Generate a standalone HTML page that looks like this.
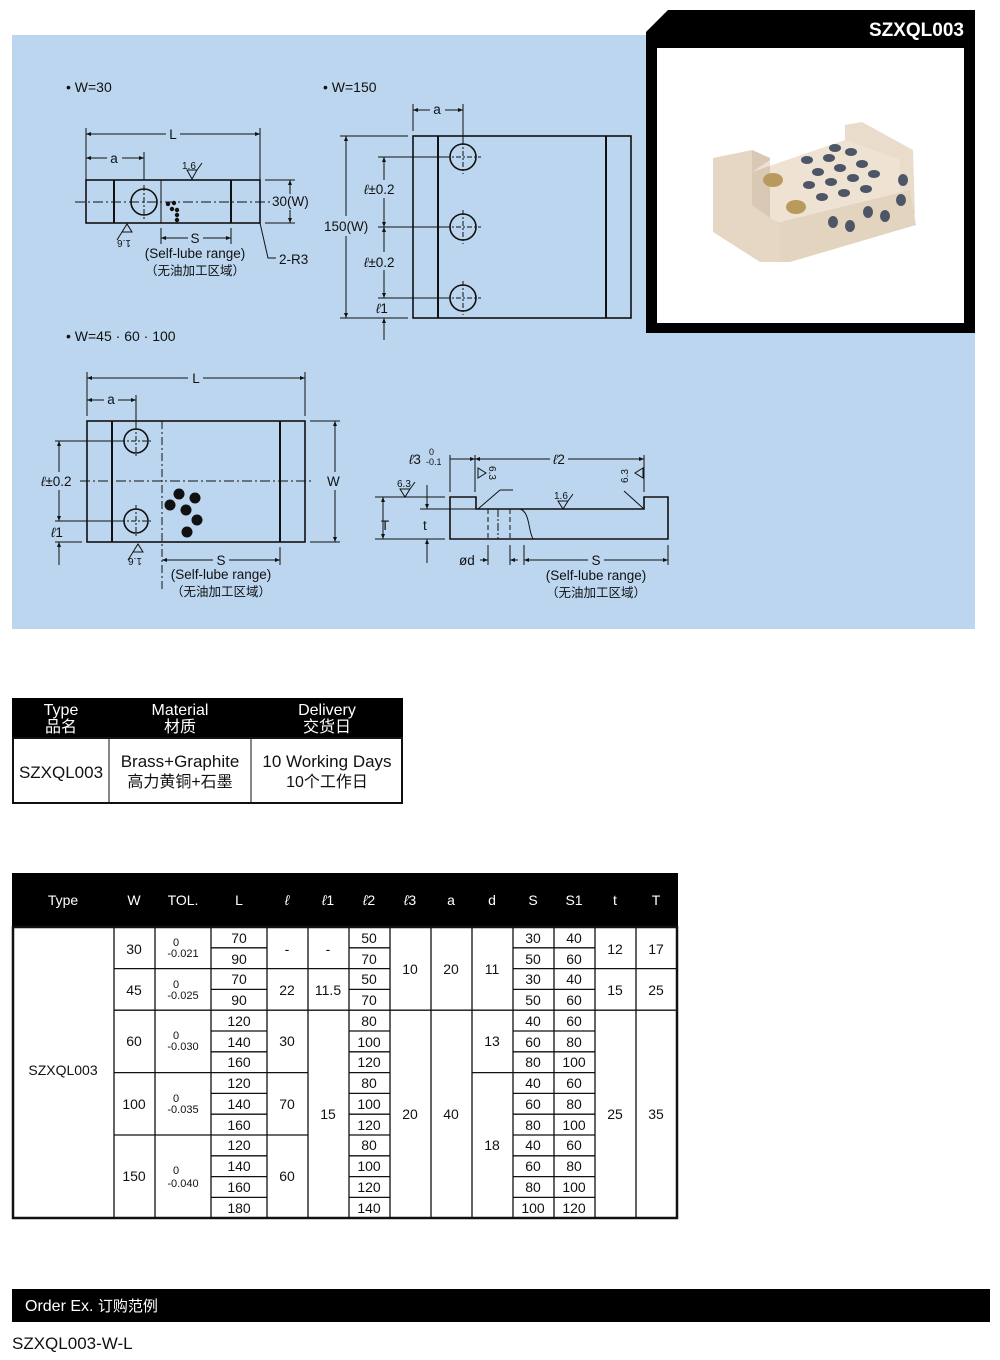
<!DOCTYPE html>
<html><head><meta charset="utf-8"><style>
html,body{margin:0;padding:0;background:#fff;}
svg{display:block;font-family:"Liberation Sans","Noto Sans CJK SC",sans-serif;}
</style></head><body>
<svg width="1000" height="1360" viewBox="0 0 1000 1360" xmlns="http://www.w3.org/2000/svg">
<defs>
<marker id="ar" viewBox="0 0 10 10" refX="10" refY="5" markerWidth="9" markerHeight="5" orient="auto-start-reverse" markerUnits="userSpaceOnUse"><path d="M0,1 L10,5 L0,9 z" fill="#111"/></marker>
</defs>
<rect x="12" y="35" width="963" height="594" fill="#bcd6ef"/>
<!-- photo frame -->
<path d="M668,10 L975,10 L975,333 L646,333 L646,32 Z" fill="#000"/>
<rect x="657" y="48" width="307" height="275" fill="#fff"/>
<text x="964" y="36" font-size="19" font-weight="bold" fill="#fff" text-anchor="end">SZXQL003</text>
<!-- product -->
<g>
<path d="M713,158 L752,150 L770,158 L770,218 L780,222 L780,262 L760,262 L713,232 Z" fill="#e6d7c4"/>
<path d="M752,150 L770,158 L770,218 L752,205 Z" fill="#d9c8b3"/>
<path d="M752,172 L845,140 L900,160 L910,190 L780,222 L770,218 L770,160 Z" fill="#eee2d2"/>
<path d="M845,125 L862,122 L913,150 L915,215 L900,195 L900,160 L845,140 Z" fill="#e9dccb"/>
<path d="M780,222 L910,190 L916,225 L790,262 L780,262 Z" fill="#e3d4c0"/>
<ellipse cx="773" cy="180" rx="10" ry="7" fill="#b89a5c"/><ellipse cx="796" cy="207" rx="10" ry="7" fill="#b89a5c"/>
<g fill="#4d5666">
<ellipse cx="807" cy="160" rx="6" ry="4"/><ellipse cx="829" cy="158" rx="6" ry="4"/><ellipse cx="851" cy="152" rx="6" ry="4"/><ellipse cx="835" cy="148" rx="6" ry="4"/>
<ellipse cx="818" cy="172" rx="6" ry="4"/><ellipse cx="840" cy="168" rx="6" ry="4"/><ellipse cx="862" cy="164" rx="6" ry="4"/><ellipse cx="809" cy="185" rx="6" ry="4"/>
<ellipse cx="831" cy="182" rx="6" ry="4"/><ellipse cx="853" cy="178" rx="6" ry="4"/><ellipse cx="874" cy="174" rx="6" ry="4"/><ellipse cx="822" cy="197" rx="6" ry="4"/>
<ellipse cx="844" cy="193" rx="6" ry="4"/><ellipse cx="866" cy="189" rx="6" ry="4"/>
<ellipse cx="833" cy="222" rx="5" ry="6"/><ellipse cx="850" cy="226" rx="5" ry="6"/><ellipse cx="868" cy="212" rx="5" ry="6"/><ellipse cx="885" cy="216" rx="5" ry="6"/>
<ellipse cx="901" cy="200" rx="5" ry="6"/><ellipse cx="903" cy="180" rx="5" ry="6"/>
</g>
</g>

<g font-size="14" fill="#111">
<text x="66" y="92">• W=30</text>
<text x="323" y="92">• W=150</text>
<text x="66" y="341">• W=45 · 60 · 100</text>
</g>

<g stroke="#111" fill="none" stroke-width="1">
<!-- Drawing 1 -->
<rect x="86" y="180" width="174" height="43" stroke-width="1.6"/>
<line x1="114" y1="180" x2="114" y2="223" stroke-width="2"/>
<line x1="161" y1="180" x2="161" y2="223"/>
<line x1="231" y1="180" x2="231" y2="223" stroke-width="2"/>
<circle cx="144" cy="202" r="13" stroke-width="1.6"/>
<line x1="75" y1="202" x2="270" y2="202" stroke-dasharray="10,3,2,3"/>
<line x1="144" y1="185" x2="144" y2="219" stroke-dasharray="6,2,2,2"/>
<line x1="86" y1="128" x2="86" y2="180"/><line x1="260" y1="128" x2="260" y2="180"/>
<line x1="86" y1="134" x2="166" y2="134" marker-start="url(#ar)"/><line x1="180" y1="134" x2="260" y2="134" marker-end="url(#ar)"/>
<line x1="144" y1="152" x2="144" y2="180"/>
<line x1="86" y1="158" x2="107" y2="158" marker-start="url(#ar)"/><line x1="122" y1="158" x2="144" y2="158" marker-end="url(#ar)"/>
<line x1="265" y1="180" x2="295" y2="180"/><line x1="265" y1="223" x2="295" y2="223"/>
<line x1="290" y1="180" x2="290" y2="194" marker-start="url(#ar)"/><line x1="290" y1="210" x2="290" y2="223" marker-end="url(#ar)"/>
<line x1="161" y1="228" x2="161" y2="244"/><line x1="231" y1="228" x2="231" y2="244"/>
<line x1="161" y1="238" x2="188" y2="238" marker-start="url(#ar)"/><line x1="203" y1="238" x2="231" y2="238" marker-end="url(#ar)"/>
<polyline points="260,223 268,258 276,258"/>
<path d="M187,170 L197,170 L192,179 Z M197,170 L202,163"/>
<path d="M122,232 L132,232 L127,224 Z M117,240 L122,232"/>
<!-- Drawing 2 -->
<rect x="413" y="136" width="218" height="182" stroke-width="1.6"/>
<line x1="438" y1="136" x2="438" y2="318" stroke-width="2"/>
<line x1="606" y1="136" x2="606" y2="318" stroke-width="2"/>
<circle cx="463" cy="157" r="13" stroke-width="1.6"/><circle cx="463" cy="227" r="13" stroke-width="1.6"/><circle cx="463" cy="298" r="13" stroke-width="1.6"/>
<g stroke-dasharray="5,2,2,2"><line x1="445" y1="157" x2="481" y2="157"/><line x1="463" y1="140" x2="463" y2="174"/><line x1="445" y1="227" x2="481" y2="227"/><line x1="463" y1="210" x2="463" y2="244"/><line x1="445" y1="298" x2="481" y2="298"/><line x1="463" y1="281" x2="463" y2="315"/></g>
<line x1="340" y1="136" x2="408" y2="136"/><line x1="340" y1="318" x2="408" y2="318"/>
<line x1="346" y1="136" x2="346" y2="216" marker-start="url(#ar)"/><line x1="346" y1="236" x2="346" y2="318" marker-end="url(#ar)"/>
<line x1="378" y1="157" x2="445" y2="157"/><line x1="378" y1="227" x2="445" y2="227"/><line x1="378" y1="298" x2="445" y2="298"/>
<line x1="384" y1="157" x2="384" y2="180" marker-start="url(#ar)"/><line x1="384" y1="198" x2="384" y2="227" marker-end="url(#ar)"/>
<line x1="384" y1="227" x2="384" y2="252" marker-start="url(#ar)"/><line x1="384" y1="270" x2="384" y2="298" marker-end="url(#ar)"/>
<line x1="384" y1="318" x2="384" y2="340" marker-start="url(#ar)"/>
<line x1="413" y1="104" x2="413" y2="131"/><line x1="463" y1="104" x2="463" y2="144"/>
<line x1="413" y1="110" x2="430" y2="110" marker-start="url(#ar)"/><line x1="445" y1="110" x2="463" y2="110" marker-end="url(#ar)"/>
<!-- Drawing 3 -->
<rect x="87" y="421" width="218" height="121" stroke-width="1.6"/>
<line x1="112" y1="421" x2="112" y2="542" stroke-width="2"/>
<line x1="280" y1="421" x2="280" y2="542" stroke-width="2"/>
<line x1="162" y1="421" x2="162" y2="590" stroke-dasharray="8,3,2,3"/>
<circle cx="136" cy="441" r="12" stroke-width="1.6"/><circle cx="136" cy="521" r="12" stroke-width="1.6"/>
<g stroke-dasharray="5,2,2,2"><line x1="120" y1="441" x2="152" y2="441"/><line x1="136" y1="425" x2="136" y2="457"/><line x1="120" y1="521" x2="152" y2="521"/><line x1="136" y1="505" x2="136" y2="537"/></g>
<line x1="80" y1="481" x2="312" y2="481" stroke-dasharray="10,3,2,3"/>
<line x1="87" y1="372" x2="87" y2="416"/><line x1="305" y1="372" x2="305" y2="416"/>
<line x1="87" y1="378" x2="188" y2="378" marker-start="url(#ar)"/><line x1="203" y1="378" x2="305" y2="378" marker-end="url(#ar)"/>
<line x1="136" y1="395" x2="136" y2="428"/>
<line x1="87" y1="400" x2="104" y2="400" marker-start="url(#ar)"/><line x1="118" y1="400" x2="136" y2="400" marker-end="url(#ar)"/>
<line x1="310" y1="421" x2="340" y2="421"/><line x1="310" y1="542" x2="340" y2="542"/>
<line x1="335" y1="421" x2="335" y2="472" marker-start="url(#ar)"/><line x1="335" y1="490" x2="335" y2="542" marker-end="url(#ar)"/>
<line x1="55" y1="441" x2="120" y2="441"/><line x1="55" y1="521" x2="120" y2="521"/><line x1="55" y1="542" x2="82" y2="542"/>
<line x1="59" y1="441" x2="59" y2="472" marker-start="url(#ar)"/><line x1="59" y1="490" x2="59" y2="521" marker-end="url(#ar)"/>
<line x1="59" y1="542" x2="59" y2="565" marker-start="url(#ar)"/>
<line x1="280" y1="547" x2="280" y2="565"/>
<line x1="162" y1="560" x2="213" y2="560" marker-start="url(#ar)"/><line x1="229" y1="560" x2="280" y2="560" marker-end="url(#ar)"/>
<path d="M133,552 L143,552 L138,544 Z M128,560 L133,552"/>
<!-- Drawing 4 -->
<path d="M450,497 L476,497 L476,509 L644,509 L644,497 L668,497 L668,539 L450,539 Z" stroke-width="1.6"/>
<line x1="488" y1="509" x2="488" y2="539" stroke-dasharray="5,3"/>
<line x1="498" y1="509" x2="498" y2="539" stroke-dasharray="8,2,2,2"/>
<line x1="510" y1="509" x2="510" y2="539" stroke-dasharray="5,3"/>
<path d="M520,509 C530,512 528,530 533,539"/>
<line x1="478" y1="509" x2="500" y2="490"/><line x1="500" y1="490" x2="513" y2="490"/>
<line x1="644" y1="509" x2="624" y2="491"/>
<line x1="375" y1="497" x2="445" y2="497"/><line x1="420" y1="509" x2="476" y2="509"/><line x1="375" y1="539" x2="445" y2="539"/>
<line x1="383" y1="497" x2="383" y2="539" marker-start="url(#ar)" marker-end="url(#ar)"/>
<line x1="427" y1="485" x2="427" y2="509" marker-end="url(#ar)"/><line x1="427" y1="539" x2="427" y2="563" marker-start="url(#ar)"/>
<line x1="450" y1="455" x2="450" y2="492"/><line x1="475" y1="455" x2="475" y2="492"/><line x1="644" y1="455" x2="644" y2="492"/>
<line x1="450" y1="459" x2="475" y2="459" marker-end="url(#ar)"/>
<line x1="475" y1="459" x2="550" y2="459" marker-start="url(#ar)"/><line x1="568" y1="459" x2="644" y2="459" marker-end="url(#ar)"/>
<line x1="488" y1="545" x2="488" y2="565"/><line x1="510" y1="545" x2="510" y2="565"/>
<line x1="480" y1="560" x2="488" y2="560" marker-end="url(#ar)"/><line x1="518" y1="560" x2="510" y2="560" marker-end="url(#ar)"/>
<line x1="524" y1="545" x2="524" y2="565"/><line x1="668" y1="545" x2="668" y2="565"/>
<line x1="524" y1="560" x2="588" y2="560" marker-start="url(#ar)"/><line x1="604" y1="560" x2="668" y2="560" marker-end="url(#ar)"/>
<path d="M400,489 L410,489 L405,497 Z M410,489 L415,482"/>
<path d="M558,501 L568,501 L563,509 Z M568,501 L573,494"/>
<path d="M478,468 L478,478 L486,473 Z"/>
<path d="M643,468 L643,478 L635,473 Z"/>
</g>
<g fill="#111">
<circle cx="168" cy="204" r="2.2"/><circle cx="174" cy="203" r="2.2"/><circle cx="172" cy="209" r="2.2"/><circle cx="177" cy="210" r="2.2"/><circle cx="177" cy="215" r="2.2"/><circle cx="177" cy="220" r="2.2"/>
<circle cx="179" cy="494" r="5.5"/><circle cx="195" cy="498" r="5.5"/><circle cx="170" cy="505" r="5.5"/><circle cx="186" cy="510" r="5.5"/><circle cx="197" cy="520" r="5.5"/><circle cx="187" cy="532" r="5.5"/>
</g>
<g font-size="13.5" fill="#111">
<text x="173" y="139" text-anchor="middle">L</text>
<text x="114" y="163" text-anchor="middle">a</text>
<text x="182" y="169" font-size="10">1.6</text>
<text x="272" y="206">30(W)</text>
<text x="195" y="243" text-anchor="middle">S</text>
<text x="195" y="258" text-anchor="middle">(Self-lube range)</text>
<text x="195" y="275" text-anchor="middle" font-size="12.5">（无油加工区域）</text>
<text x="279" y="264">2-R3</text>
<text x="132" y="236" font-size="10" text-anchor="middle" transform="rotate(180 128 238)">1.6</text>
<text x="437" y="114" text-anchor="middle">a</text>
<text x="324" y="231">150(W)</text>
<text x="364" y="194"><tspan font-style="italic">ℓ</tspan>±0.2</text>
<text x="364" y="267"><tspan font-style="italic">ℓ</tspan>±0.2</text>
<text x="376" y="313"><tspan font-style="italic">ℓ</tspan>1</text>
<text x="196" y="383" text-anchor="middle">L</text>
<text x="111" y="404" text-anchor="middle">a</text>
<text x="327" y="486">W</text>
<text x="41" y="486"><tspan font-style="italic">ℓ</tspan>±0.2</text>
<text x="51" y="537"><tspan font-style="italic">ℓ</tspan>1</text>
<text x="143" y="554" font-size="10" text-anchor="middle" transform="rotate(180 139 556)">1.6</text>
<text x="221" y="565" text-anchor="middle">S</text>
<text x="221" y="579" text-anchor="middle">(Self-lube range)</text>
<text x="221" y="596" text-anchor="middle" font-size="12.5">（无油加工区域）</text>
<text x="409" y="464"><tspan font-style="italic">ℓ</tspan>3</text>
<text x="429" y="455" font-size="9">0</text>
<text x="426" y="465" font-size="9">-0.1</text>
<text x="559" y="464" text-anchor="middle"><tspan font-style="italic">ℓ</tspan>2</text>
<text x="397" y="487" font-size="10">6.3</text>
<text x="554" y="499" font-size="10">1.6</text>
<text x="489" y="473" font-size="10" transform="rotate(90 489 473)" text-anchor="middle">6.3</text>
<text x="628" y="476" font-size="10" transform="rotate(-90 628 476)" text-anchor="middle">6.3</text>
<text x="381" y="530">T</text>
<text x="423" y="530">t</text>
<text x="459" y="565">ød</text>
<text x="596" y="565" text-anchor="middle">S</text>
<text x="596" y="580" text-anchor="middle">(Self-lube range)</text>
<text x="596" y="597" text-anchor="middle" font-size="12.5">（无油加工区域）</text>
</g>

<!-- small table -->
<rect x="12" y="698" width="391" height="40" fill="#000"/>
<rect x="13" y="738" width="389" height="65" fill="#fff" stroke="#111" stroke-width="2"/>
<line x1="109" y1="738" x2="109" y2="804" stroke="#111"/>
<line x1="251" y1="738" x2="251" y2="804" stroke="#111"/>
<g font-size="16" fill="#fff" text-anchor="middle">
<text x="61" y="715">Type</text><text x="61" y="732">品名</text>
<text x="180" y="715">Material</text><text x="180" y="732">材质</text>
<text x="327" y="715">Delivery</text><text x="327" y="732">交货日</text>
</g>
<g font-size="17" fill="#111" text-anchor="middle">
<text x="61" y="778">SZXQL003</text>
<text x="180" y="767">Brass+Graphite</text><text x="180" y="787" font-size="16">高力黄铜+石墨</text>
<text x="327" y="767">10 Working Days</text><text x="327" y="787" font-size="16">10个工作日</text>
</g>

<!-- big table -->
<rect x="12" y="873" width="666" height="54" fill="#000"/>
<g font-size="14" fill="#fff" text-anchor="middle">
<text x="63" y="905">Type</text><text x="134" y="905">W</text><text x="183" y="905">TOL.</text><text x="239" y="905">L</text>
<text x="287" y="905" font-style="italic">ℓ</text><text x="328" y="905"><tspan font-style="italic">ℓ</tspan>1</text><text x="369" y="905"><tspan font-style="italic">ℓ</tspan>2</text><text x="410" y="905"><tspan font-style="italic">ℓ</tspan>3</text>
<text x="451" y="905">a</text><text x="492" y="905">d</text><text x="533" y="905">S</text><text x="574" y="905">S1</text><text x="615" y="905">t</text><text x="656" y="905">T</text>
</g>
<g stroke="#111" stroke-width="1.3">
<rect x="13" y="927" width="664" height="291" fill="none" stroke-width="2.5"/>
<line x1="114" y1="927" x2="114" y2="1218"/><line x1="155" y1="927" x2="155" y2="1218"/><line x1="211" y1="927" x2="211" y2="1218"/>
<line x1="267" y1="927" x2="267" y2="1218"/><line x1="308" y1="927" x2="308" y2="1218"/><line x1="349" y1="927" x2="349" y2="1218"/>
<line x1="390" y1="927" x2="390" y2="1218"/><line x1="431" y1="927" x2="431" y2="1218"/><line x1="472" y1="927" x2="472" y2="1218"/>
<line x1="513" y1="927" x2="513" y2="1218"/><line x1="554" y1="927" x2="554" y2="1218"/><line x1="595" y1="927" x2="595" y2="1218"/>
<line x1="636" y1="927" x2="636" y2="1218"/>
<!-- W/TOL/ℓ boundaries at 2,4,7,10 -->
<line x1="114" y1="968.6" x2="308" y2="968.6"/><line x1="114" y1="1010.2" x2="308" y2="1010.2"/>
<line x1="114" y1="1072.6" x2="308" y2="1072.6"/><line x1="114" y1="1135" x2="308" y2="1135"/>
<!-- ℓ1 at 2,4 -->
<line x1="308" y1="968.6" x2="349" y2="968.6"/><line x1="308" y1="1010.2" x2="349" y2="1010.2"/>
<!-- ℓ3,a at 4 ; d at 4,7 -->
<line x1="390" y1="1010.2" x2="513" y2="1010.2"/><line x1="472" y1="1072.6" x2="513" y2="1072.6"/>
<!-- t,T at 2,4 -->
<line x1="595" y1="968.6" x2="677" y2="968.6"/><line x1="595" y1="1010.2" x2="677" y2="1010.2"/>
<!-- per-row columns -->
<g>
<line x1="211" y1="947.8" x2="267" y2="947.8"/><line x1="211" y1="989.4" x2="267" y2="989.4"/><line x1="211" y1="1031" x2="267" y2="1031"/><line x1="211" y1="1051.8" x2="267" y2="1051.8"/><line x1="211" y1="1093.4" x2="267" y2="1093.4"/><line x1="211" y1="1114.2" x2="267" y2="1114.2"/><line x1="211" y1="1155.8" x2="267" y2="1155.8"/><line x1="211" y1="1176.6" x2="267" y2="1176.6"/><line x1="211" y1="1197.4" x2="267" y2="1197.4"/>
<line x1="349" y1="947.8" x2="390" y2="947.8"/><line x1="349" y1="968.6" x2="390" y2="968.6"/><line x1="349" y1="989.4" x2="390" y2="989.4"/><line x1="349" y1="1010.2" x2="390" y2="1010.2"/><line x1="349" y1="1031" x2="390" y2="1031"/><line x1="349" y1="1051.8" x2="390" y2="1051.8"/><line x1="349" y1="1072.6" x2="390" y2="1072.6"/><line x1="349" y1="1093.4" x2="390" y2="1093.4"/><line x1="349" y1="1114.2" x2="390" y2="1114.2"/><line x1="349" y1="1135" x2="390" y2="1135"/><line x1="349" y1="1155.8" x2="390" y2="1155.8"/><line x1="349" y1="1176.6" x2="390" y2="1176.6"/><line x1="349" y1="1197.4" x2="390" y2="1197.4"/>
<line x1="513" y1="947.8" x2="595" y2="947.8"/><line x1="513" y1="968.6" x2="595" y2="968.6"/><line x1="513" y1="989.4" x2="595" y2="989.4"/><line x1="513" y1="1010.2" x2="595" y2="1010.2"/><line x1="513" y1="1031" x2="595" y2="1031"/><line x1="513" y1="1051.8" x2="595" y2="1051.8"/><line x1="513" y1="1072.6" x2="595" y2="1072.6"/><line x1="513" y1="1093.4" x2="595" y2="1093.4"/><line x1="513" y1="1114.2" x2="595" y2="1114.2"/><line x1="513" y1="1135" x2="595" y2="1135"/><line x1="513" y1="1155.8" x2="595" y2="1155.8"/><line x1="513" y1="1176.6" x2="595" y2="1176.6"/><line x1="513" y1="1197.4" x2="595" y2="1197.4"/>
</g>
</g>
<g font-size="14" fill="#111" text-anchor="middle">
<text x="63" y="1075">SZXQL003</text>
<text x="134" y="954">30</text><text x="134" y="995">45</text><text x="134" y="1046">60</text><text x="134" y="1109">100</text><text x="134" y="1181">150</text>
<g font-size="11"><text x="176" y="946">0</text><text x="183" y="957">-0.021</text>
<text x="176" y="988">0</text><text x="183" y="999">-0.025</text>
<text x="176" y="1039">0</text><text x="183" y="1050">-0.030</text>
<text x="176" y="1102">0</text><text x="183" y="1113">-0.035</text>
<text x="176" y="1174">0</text><text x="183" y="1187">-0.040</text></g>
<g><text x="239" y="943">70</text><text x="239" y="964">90</text><text x="239" y="984">70</text><text x="239" y="1005">90</text><text x="239" y="1026">120</text><text x="239" y="1047">140</text><text x="239" y="1067">160</text><text x="239" y="1088">120</text><text x="239" y="1109">140</text><text x="239" y="1130">160</text><text x="239" y="1150">120</text><text x="239" y="1171">140</text><text x="239" y="1192">160</text><text x="239" y="1213">180</text></g>
<text x="287" y="954">-</text><text x="287" y="995">22</text><text x="287" y="1046">30</text><text x="287" y="1109">70</text><text x="287" y="1181">60</text>
<text x="328" y="954">-</text><text x="328" y="995">11.5</text><text x="328" y="1119">15</text>
<g><text x="369" y="943">50</text><text x="369" y="964">70</text><text x="369" y="984">50</text><text x="369" y="1005">70</text><text x="369" y="1026">80</text><text x="369" y="1047">100</text><text x="369" y="1067">120</text><text x="369" y="1088">80</text><text x="369" y="1109">100</text><text x="369" y="1130">120</text><text x="369" y="1150">80</text><text x="369" y="1171">100</text><text x="369" y="1192">120</text><text x="369" y="1213">140</text></g>
<text x="410" y="974">10</text><text x="410" y="1119">20</text>
<text x="451" y="974">20</text><text x="451" y="1119">40</text>
<text x="492" y="974">11</text><text x="492" y="1046">13</text><text x="492" y="1150">18</text>
<g><text x="533" y="943">30</text><text x="533" y="964">50</text><text x="533" y="984">30</text><text x="533" y="1005">50</text><text x="533" y="1026">40</text><text x="533" y="1047">60</text><text x="533" y="1067">80</text><text x="533" y="1088">40</text><text x="533" y="1109">60</text><text x="533" y="1130">80</text><text x="533" y="1150">40</text><text x="533" y="1171">60</text><text x="533" y="1192">80</text><text x="533" y="1213">100</text></g>
<g><text x="574" y="943">40</text><text x="574" y="964">60</text><text x="574" y="984">40</text><text x="574" y="1005">60</text><text x="574" y="1026">60</text><text x="574" y="1047">80</text><text x="574" y="1067">100</text><text x="574" y="1088">60</text><text x="574" y="1109">80</text><text x="574" y="1130">100</text><text x="574" y="1150">60</text><text x="574" y="1171">80</text><text x="574" y="1192">100</text><text x="574" y="1213">120</text></g>
<text x="615" y="954">12</text><text x="615" y="995">15</text><text x="615" y="1119">25</text>
<text x="656" y="954">17</text><text x="656" y="995">25</text><text x="656" y="1119">35</text>
</g>

<!-- order -->
<rect x="12" y="1289" width="978" height="33" fill="#000"/>
<text x="25" y="1311" font-size="16" fill="#fff">Order Ex. <tspan font-size="15">订购范例</tspan></text>
<text x="12" y="1349" font-size="17" fill="#111">SZXQL003-W-L</text>
</svg>
</body></html>
